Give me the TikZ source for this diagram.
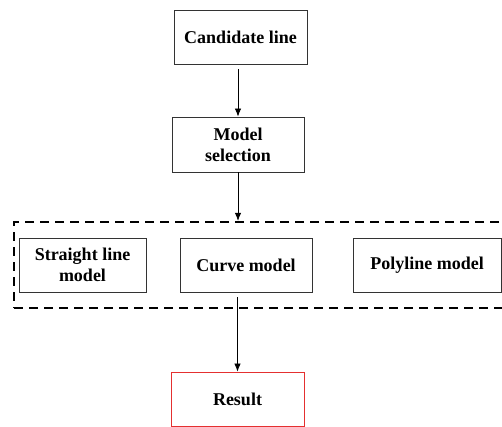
\documentclass[tikz,border=0pt]{standalone}
\usepackage{fontspec}
\setmainfont{Liberation Serif}
\usetikzlibrary{arrows.meta}
\definecolor{resultred}{RGB}{228,48,48}
\begin{document}
\begin{tikzpicture}[x=1pt, y=1pt,
  every node/.style={font=\fontsize{18}{21}\selectfont\bfseries},
  box/.style={draw=black!80, line width=0.9pt, align=center, minimum width=133pt, minimum height=54pt, inner sep=2pt},
  arr/.style={-{Latex[length=8pt,width=6.5pt]}, line width=0.8pt}]
\useasboundingbox (0,0) rectangle (502,-426);

\node[box] (cand) at (240.5,-37) {Candidate line};
\node[box, minimum width=132pt, minimum height=55pt] (sel) at (238,-144.5) {Model\\ selection};

\node[draw, dashed, line width=2.4pt, dash pattern=on 9pt off 6pt, minimum width=492pt, minimum height=86pt] (models) at (260,-265) {};

\node[box, minimum width=127pt] (straight) at (82.5,-265) {Straight line\\ model};
\node[box, minimum width=132pt] (curve) at (246,-265) {Curve model};
\node[box, minimum width=148pt] (poly) at (427,-265) {Polyline model};

\node[box, draw=resultred] (result) at (237.5,-399) {Result};

\draw[arr, shorten <=5pt] (cand.south -| sel.south) -- (sel.north);
\draw[arr] (sel.south) -- (sel.south |- models.north);
\draw[arr, shorten <=5pt] (curve.south -| result.north) -- (result.north);
\end{tikzpicture}
\end{document}
